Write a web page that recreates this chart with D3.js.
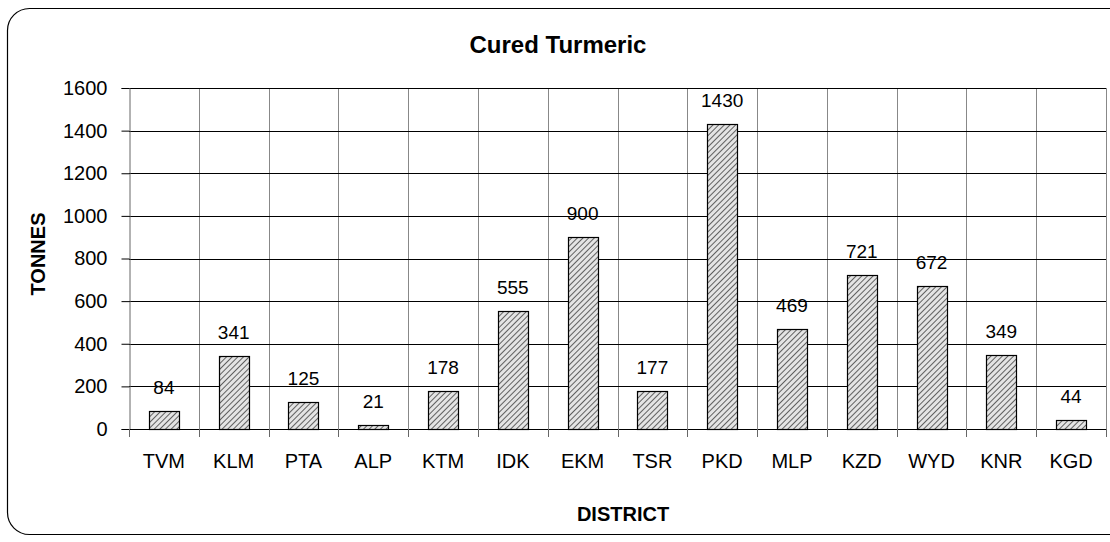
<!DOCTYPE html>
<html>
<head>
<meta charset="utf-8">
<script src="https://cdn.jsdelivr.net/npm/d3@7"></script>
<style>
  body { margin: 0; background: #fff; }
  svg text { font-family: "Liberation Sans", Arial, sans-serif; fill: #000; }
</style>
</head>
<body>
<div id="chart"></div>
<script>
const districts = ["TVM", "KLM", "PTA", "ALP", "KTM", "IDK", "EKM", "TSR", "PKD", "MLP", "KZD", "WYD", "KNR", "KGD"];
const tonnes = [84, 341, 125, 21, 178, 555, 900, 177, 1430, 469, 721, 672, 349, 44];
const yTicks = [0, 200, 400, 600, 800, 1000, 1200, 1400, 1600];

const W = 1110, H = 542;
const margin = { left: 129, right: 4, top: 88, bottom: 113 };
const FONT = "'Liberation Sans', Arial, sans-serif";

const svg = d3.select("#chart").append("svg")
  .attr("width", W)
  .attr("height", H);

// hatch pattern for bars
const pat = svg.append("defs").append("pattern")
  .attr("id", "hatch")
  .attr("patternUnits", "userSpaceOnUse")
  .attr("width", 4)
  .attr("height", 4)
  .attr("patternTransform", "rotate(45)");
pat.append("rect").attr("width", 4).attr("height", 4).attr("fill", "#e4e4e4");
pat.append("line")
  .attr("x1", 0).attr("y1", 0).attr("x2", 0).attr("y2", 4)
  .attr("stroke", "#333").attr("stroke-width", 1.5);

// outer rounded frame
svg.append("rect")
  .attr("x", 7.5).attr("y", 8.5)
  .attr("width", 1130).attr("height", 526)
  .attr("rx", 22).attr("ry", 22)
  .attr("fill", "none")
  .attr("stroke", "#000")
  .attr("stroke-width", 1.2);

const x = d3.scaleBand()
  .domain(districts)
  .range([margin.left, W - margin.right])
  .paddingInner(0).paddingOuter(0);

const y = d3.scaleLinear()
  .domain([0, 1600])
  .range([H - margin.bottom, margin.top]);

// vertical grid at category boundaries
svg.append("g")
  .selectAll("line")
  .data(districts)
  .enter().append("line")
  .attr("x1", d => Math.round(x(d) + x.bandwidth()) + 0.5)
  .attr("x2", d => Math.round(x(d) + x.bandwidth()) + 0.5)
  .attr("y1", y(1600))
  .attr("y2", y(0))
  .attr("stroke", "#888")
  .attr("stroke-width", 1);

// horizontal grid
svg.append("g")
  .selectAll("line")
  .data(yTicks.slice(1))
  .enter().append("line")
  .attr("x1", margin.left)
  .attr("x2", W - margin.right)
  .attr("y1", d => Math.round(y(d)) + 0.5)
  .attr("y2", d => Math.round(y(d)) + 0.5)
  .attr("stroke", "#000")
  .attr("stroke-width", 1);

// bars
svg.append("g")
  .selectAll("rect")
  .data(tonnes)
  .enter().append("rect")
  .attr("x", (d, i) => Math.round(x(districts[i]) + x.bandwidth() / 2 - 15) + 0.5)
  .attr("y", d => Math.round(y(d)) + 0.5)
  .attr("width", 30)
  .attr("height", d => Math.round(y(0)) - Math.round(y(d)))
  .attr("fill", "url(#hatch)")
  .attr("stroke", "#000")
  .attr("stroke-width", 1.2);

// value labels
svg.append("g")
  .selectAll("text")
  .data(tonnes)
  .enter().append("text")
  .attr("x", (d, i) => x(districts[i]) + x.bandwidth() / 2)
  .attr("y", d => y(d) - 17)
  .attr("text-anchor", "middle")
  .style("font-size", "19px")
  .text(d => d);

// y axis
const yAxis = svg.append("g")
  .attr("transform", `translate(${margin.left + 0.5},0)`)
  .call(d3.axisLeft(y).tickValues(yTicks).tickFormat(d3.format("d")).tickSize(8).tickPadding(14));
yAxis.select(".domain").attr("stroke", "#666");
yAxis.selectAll(".tick line").attr("stroke", "#000");
yAxis.selectAll("text").style("font-size", "20px").style("font-family", FONT);

// x axis
const xAxis = svg.append("g")
  .attr("transform", `translate(0,${Math.round(y(0)) + 0.5})`)
  .call(d3.axisBottom(x).tickSize(0).tickPadding(24));
xAxis.select(".domain").attr("stroke", "#000").attr("d", `M${margin.left},0H${W - margin.right}`);
xAxis.selectAll("text").style("font-size", "20px").style("font-family", FONT);

// ticks between categories
svg.append("g")
  .selectAll("line")
  .data([0].concat(districts.map(d => x(d) + x.bandwidth())))
  .enter().append("line")
  .attr("x1", (d, i) => i === 0 ? margin.left + 0.5 : Math.round(d) + 0.5)
  .attr("x2", (d, i) => i === 0 ? margin.left + 0.5 : Math.round(d) + 0.5)
  .attr("y1", y(0))
  .attr("y2", y(0) + 8)
  .attr("stroke", "#666");

// title and axis titles
svg.append("text")
  .attr("x", 558).attr("y", 53)
  .attr("text-anchor", "middle")
  .style("font-size", "24px").style("font-weight", "bold")
  .text("Cured Turmeric");

svg.append("text")
  .attr("x", 623).attr("y", 521)
  .attr("text-anchor", "middle")
  .style("font-size", "20px").style("font-weight", "bold")
  .text("DISTRICT");

svg.append("text")
  .attr("transform", "translate(45,254) rotate(-90)")
  .attr("text-anchor", "middle")
  .style("font-size", "20px").style("font-weight", "bold")
  .text("TONNES");
</script>
</body>
</html>
